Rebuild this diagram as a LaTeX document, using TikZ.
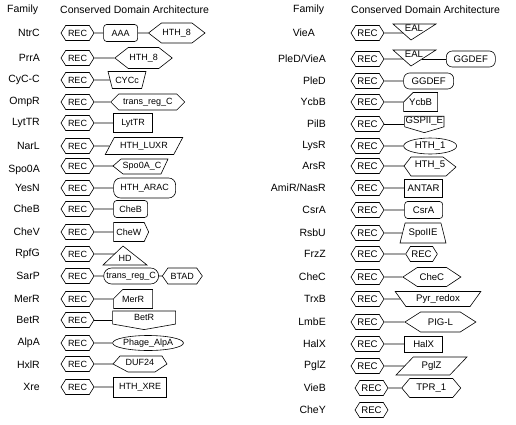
\documentclass[tikz,border=0pt]{standalone}
\usepackage{fontspec}
\setmainfont{Liberation Sans}
\usetikzlibrary{positioning,shapes.geometric,shapes.symbols,shapes.misc}

\begin{document}
\begin{tikzpicture}[
  x=1pt, y=1pt,
  head/.style={anchor=west, inner sep=0pt, font=\fontsize{10.5}{12}\selectfont},
  fam/.style={anchor=east, inner sep=0pt, font=\fontsize{10.5}{12}\selectfont},
  dom/.style={draw, line width=0.6pt, inner sep=1pt, font=\fontsize{9}{10}\selectfont},
  domtext/.style={inner sep=0pt, font=\fontsize{9}{10}\selectfont},
  outline/.style={line width=0.6pt, line join=miter},
  rec/.style={dom, signal, signal to=east and west, signal pointer angle=116,
              minimum width=33pt, minimum height=15pt},
  hexa/.style={dom, signal, signal to=east and west},
  box/.style={dom, rectangle},
  rbox/.style={dom, rectangle, rounded corners=3pt},
  cbox/.style={dom, chamfered rectangle, chamfered rectangle corners=north west,
               chamfered rectangle xsep=6pt, chamfered rectangle ysep=5pt},
  trap/.style={dom, trapezium, trapezium stretches},
  link/.style={line width=0.6pt}
]
\useasboundingbox (0,0) rectangle (516,-424);

% headers
\node[head] (h-fam1) at (7,-10) {Family};
\node[head] (h-cda1) at (60,-10) {Conserved Domain Architecture};
\node[head] (h-fam2) at (293,-10) {Family};
\node[head] (h-cda2) at (351,-10) {Conserved Domain Architecture};

% left column
\node[fam] (lab-ntrc) at (40,-33) {NtrC};
\node[rec] (ntrc) at (77.5,-33) {REC};
\node[rbox, minimum width=34pt, minimum height=17pt, right=9pt of ntrc] (ntrc-aaa) {AAA};
\node[hexa, signal pointer angle=75, minimum width=56pt, minimum height=20pt, right=10pt of ntrc-aaa] (ntrc-hth) {HTH\_8};

\node[fam] (lab-prra) at (40,-58) {PrrA};
\node[rec] (prra) at (77.5,-58) {REC};
\node[hexa, signal pointer angle=76, minimum width=57pt, minimum height=21pt, right=20pt of prra] (prra-hth) {HTH\_8};

\node[fam] (lab-cycc) at (40,-80) {CyC-C};
\node[rec] (cycc) at (77.5,-80) {REC};
\node[trap, trapezium left angle=66, trapezium right angle=66, shape border rotate=180,
      minimum width=38pt, minimum height=17pt] (cycc-cyc) at (127,-80) {CYCc};

\node[fam] (lab-ompr) at (40,-102) {OmpR};
\node[rec] (ompr) at (77.5,-102) {REC};
\node[hexa, signal pointer angle=90, minimum width=74pt, minimum height=16pt, right=16pt of ompr] (ompr-trc) {trans\_reg\_C};

\node[fam] (lab-lyttr) at (40,-123) {LytTR};
\node[rec] (lyttr) at (77.5,-123) {REC};
\node[box, minimum width=39pt, minimum height=19pt, right=19pt of lyttr] (lyttr-dom) {LytTR};

\node[fam] (lab-narl) at (40,-146) {NarL};
\node[rec] (narl) at (77.5,-146) {REC};
\node[trap, trapezium left angle=53, trapezium right angle=127,
      minimum width=78pt, minimum height=17pt] (narl-luxr) at (144,-146) {HTH\_LUXR};

\node[fam] (lab-spo) at (40,-170) {Spo0A};
\node[rec] (spo) at (77.5,-166) {REC};
\draw[outline] (121,-159) -- (168,-159) -- (161,-174) -- (123,-174) -- (113,-166) -- cycle;
\node[domtext] (spo-c) at (142,-166) {Spo0A\_C};
\coordinate (spo-in) at (113,-166);

\node[fam] (lab-yesn) at (40,-188) {YesN};
\node[rec] (yesn) at (77.5,-188) {REC};
\node[dom, rectangle, rounded corners=7pt, minimum width=62pt, minimum height=20pt, right=19pt of yesn] (yesn-arac) {HTH\_ARAC};

\node[fam] (lab-cheb) at (40,-209) {CheB};
\node[rec] (cheb) at (77.5,-209) {REC};
\node[rbox, minimum width=34pt, minimum height=17pt, right=19pt of cheb] (cheb-dom) {CheB};

\node[fam] (lab-chev) at (40,-232) {CheV};
\node[rec] (chev) at (77.5,-232) {REC};
\node[dom, signal, signal to=east, signal pointer angle=130, minimum width=35pt, minimum height=19pt, right=19pt of chev] (chev-chew) {CheW};

\node[fam] (lab-rpfg) at (40,-254) {RpfG};
\node[rec] (rpfg) at (77.5,-254) {REC};
\draw[outline] (123,-246) -- (147,-265) -- (103,-265) -- cycle;
\node[domtext] (rpfg-hd) at (125,-258.5) {HD};
\coordinate (rpfg-in) at (114.6,-254);

\node[fam] (lab-sarp) at (40,-276) {SarP};
\node[rec] (sarp) at (77.5,-276) {REC};
\node[dom, rounded rectangle, minimum width=57pt, minimum height=16pt, right=9pt of sarp] (sarp-trc) {trans\_reg\_C};
\node[hexa, signal pointer angle=110, minimum width=40pt, minimum height=16pt, right=3pt of sarp-trc] (sarp-btad) {BTAD};

\node[fam] (lab-merr) at (40,-299) {MerR};
\node[rec] (merr) at (77.5,-299) {REC};
\node[cbox, minimum width=39pt, minimum height=19pt, right=19pt of merr] (merr-dom) {MerR};

\node[fam] (lab-betr) at (40,-320) {BetR};
\node[rec] (betr) at (77.5,-320) {REC};
\node[dom, signal, signal to=south, signal pointer angle=160, minimum width=63pt, minimum height=15pt,
      right=18pt of betr, yshift=2.5pt] (betr-dom) {BetR};

\node[fam] (lab-alpa) at (40,-343) {AlpA};
\node[rec] (alpa) at (77.5,-343) {REC};
\node[dom, ellipse, inner sep=0pt, minimum width=68pt, minimum height=15pt, right=18pt of alpa] (alpa-dom) {Phage\_AlpA};

\node[fam] (lab-hxlr) at (40,-365) {HxlR};
\node[rec] (hxlr) at (77.5,-364) {REC};
\draw[outline] (120,-356) -- (162,-356) -- (167,-364) -- (155,-372) -- (128,-372) -- (113,-364) -- cycle;
\node[domtext] (hxlr-duf) at (140,-362) {DUF24};
\coordinate (hxlr-in) at (113,-364);

\node[fam] (lab-xre) at (40,-387) {Xre};
\node[rec] (xre) at (77.5,-387) {REC};
\node[box, minimum width=53pt, minimum height=20pt, right=19pt of xre] (xre-dom) {HTH\_XRE};

% right column
\begin{scope}[dom/.append style={font=\fontsize{9.6}{11}\selectfont},
              domtext/.append style={font=\fontsize{9.6}{11}\selectfont}]
\node[fam] (lab-viea) at (315,-33) {VieA};
\node[rec] (viea) at (367.5,-33) {REC};
\draw[outline] (393,-24) -- (436,-24) -- (411,-40) -- cycle;
\node[domtext] (viea-eal) at (414,-28.5) {EAL};
\coordinate (viea-in) at (403,-33);

\node[fam] (lab-pledviea) at (326,-59) {PleD/VieA};
\node[rec] (pledviea) at (367.5,-59) {REC};
\draw[outline] (393,-50) -- (436,-50) -- (411,-66) -- cycle;
\node[domtext] (pledviea-eal) at (414,-54.5) {EAL};
\coordinate (pledviea-in) at (403,-59);
\coordinate (pledviea-out) at (422,-59);
\node[rbox, rounded corners=6pt, minimum width=49pt, minimum height=16pt, right=24pt of pledviea-out] (pledviea-gg) {GGDEF};

\node[fam] (lab-pled) at (326,-81) {PleD};
\node[rec] (pled) at (367.5,-81) {REC};
\node[rbox, rounded corners=6pt, minimum width=50pt, minimum height=16pt, right=19pt of pled] (pled-gg) {GGDEF};

\node[fam] (lab-ycbb) at (326,-102) {YcbB};
\node[rec] (ycbb) at (367.5,-102) {REC};
\node[cbox, minimum width=30pt, minimum height=17pt, right=19pt of ycbb] (ycbb-dom) {YcbB};

\node[fam] (lab-pilb) at (326,-124) {PilB};
\node[rec] (pilb) at (367.5,-124) {REC};
\node[dom, signal, signal to=south, signal pointer angle=147, minimum width=38pt, minimum height=13pt,
      right=20pt of pilb, yshift=2.5pt] (pilb-gsp) {GSPII\_E};

\node[fam] (lab-lysr) at (326,-146) {LysR};
\node[rec] (lysr) at (367.5,-146) {REC};
\node[dom, ellipse, inner sep=0pt, minimum width=53pt, minimum height=16pt, right=19pt of lysr] (lysr-hth) {HTH\_1};

\node[fam] (lab-arsr) at (326,-166) {ArsR};
\node[rec] (arsr) at (367.5,-166) {REC};
\draw[outline] (411,-157) -- (443,-157) -- (456,-167) -- (446,-176) -- (411,-176) -- (404,-166) -- cycle;
\node[domtext] (arsr-hth) at (430,-165) {HTH\_5};
\coordinate (arsr-in) at (404,-166);

\node[fam] (lab-amir) at (326,-188) {AmiR/NasR};
\node[rec] (amir) at (367.5,-188) {REC};
\node[box, minimum width=38pt, minimum height=18pt, right=20pt of amir] (amir-antar) {ANTAR};

\node[fam] (lab-csra) at (326,-210) {CsrA};
\node[rec] (csra) at (367.5,-210) {REC};
\node[rbox, minimum width=38pt, minimum height=17pt, right=20pt of csra] (csra-dom) {CsrA};

\node[fam] (lab-rsbu) at (326,-233) {RsbU};
\node[rec] (rsbu) at (367.5,-233) {REC};
\node[trap, trapezium left angle=68, trapezium right angle=68,
      minimum width=46pt, minimum height=20pt] (rsbu-spo) at (423,-233) {SpoIIE};

\node[fam] (lab-frzz) at (326,-254) {FrzZ};
\node[rec] (frzz) at (367.5,-254) {REC};
\node[rec, minimum width=31pt, right=21pt of frzz] (frzz-rec) {REC};

\node[fam] (lab-chec) at (326,-277) {CheC};
\node[rec] (chec) at (367.5,-277) {REC};
\node[hexa, signal pointer angle=67, minimum width=58pt, minimum height=19pt, right=18pt of chec] (chec-dom) {CheC};

\node[fam] (lab-trxb) at (326,-299) {TrxB};
\node[rec] (trxb) at (367.5,-299) {REC};
\node[trap, trapezium left angle=55, trapezium right angle=55, shape border rotate=180,
      minimum width=86pt, minimum height=15pt] (trxb-pyr) at (438,-299) {Pyr\_redox};

\node[fam] (lab-lmbe) at (326,-322) {LmbE};
\node[rec] (lmbe) at (367.5,-322) {REC};
\node[hexa, signal pointer angle=65, minimum width=71pt, minimum height=20pt, right=20pt of lmbe] (lmbe-pig) {PIG-L};

\node[fam] (lab-halx) at (326,-344) {HalX};
\node[rec] (halx) at (367.5,-344) {REC};
\node[box, minimum width=38pt, minimum height=16pt, right=20pt of halx] (halx-dom) {HalX};

\node[fam] (lab-pglz) at (326,-366) {PglZ};
\node[rec] (pglz) at (367.5,-366) {REC};
\node[trap, trapezium left angle=47, trapezium right angle=133,
      minimum width=71pt, minimum height=18pt] (pglz-dom) at (431.5,-366) {PglZ};

\node[fam] (lab-vieb) at (326,-388) {VieB};
\node[rec] (vieb) at (371.5,-388) {REC};
\node[hexa, signal pointer angle=100, minimum width=59pt, minimum height=19pt, right=13pt of vieb] (vieb-tpr) {TPR\_1};

\node[fam] (lab-chey) at (326,-410) {CheY};
\node[rec] (chey) at (371.5,-410) {REC};
\end{scope}

% connectors
\draw[link] (ntrc) -- (ntrc-aaa);
\draw[link] (ntrc-aaa) -- (ntrc-hth);
\draw[link] (prra) -- (prra-hth);
\draw[link] (cycc) -- (cycc-cyc);
\draw[link] (ompr) -- (ompr-trc);
\draw[link] (lyttr) -- (lyttr-dom);
\draw[link] (narl) -- (narl-luxr);
\draw[link] (spo) -- (spo-in);
\draw[link] (yesn) -- (yesn-arac);
\draw[link] (cheb) -- (cheb-dom);
\draw[link] (chev) -- (chev-chew);
\draw[link] (rpfg) -- (rpfg-in);
\draw[link] (sarp) -- (sarp-trc);
\draw[link] (sarp-trc) -- (sarp-btad);
\draw[link] (merr) -- (merr-dom);
\draw[link] (betr.east) -- (betr.east -| betr-dom.west);
\draw[link] (alpa) -- (alpa-dom);
\draw[link] (hxlr) -- (hxlr-in);
\draw[link] (xre) -- (xre-dom);

\draw[link] (viea) -- (viea-in);
\draw[link] (pledviea) -- (pledviea-in);
\draw[link] (pledviea-out) -- (pledviea-gg);
\draw[link] (pled) -- (pled-gg);
\draw[link] (ycbb) -- (ycbb-dom);
\draw[link] (pilb.east) -- (pilb.east -| pilb-gsp.west);
\draw[link] (lysr) -- (lysr-hth);
\draw[link] (arsr) -- (arsr-in);
\draw[link] (amir) -- (amir-antar);
\draw[link] (csra) -- (csra-dom);
\draw[link] (rsbu) -- (rsbu-spo);
\draw[link] (frzz) -- (frzz-rec);
\draw[link] (chec) -- (chec-dom);
\draw[link] (trxb) -- (trxb-pyr);
\draw[link] (lmbe) -- (lmbe-pig);
\draw[link] (halx) -- (halx-dom);
\draw[link] (pglz) -- (pglz-dom);
\draw[link] (vieb) -- (vieb-tpr);
\end{tikzpicture}
\end{document}
